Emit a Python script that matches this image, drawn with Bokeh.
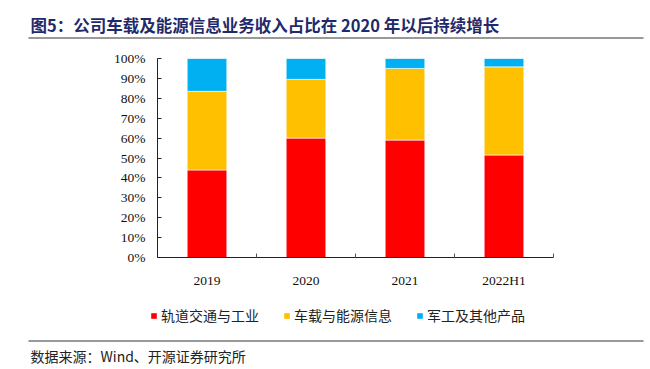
from bokeh.plotting import figure
from bokeh.layouts import column
from bokeh.models import (Range1d, FixedTicker, NumeralTickFormatter, Label,
                          Legend, LegendItem, ColumnDataSource)
from bokeh.embed import file_html
from bokeh.resources import INLINE

# ---- data ----
years = ["2019", "2020", "2021", "2022H1"]
rail = [0.44, 0.60, 0.59, 0.515]
vehicle = [0.395, 0.295, 0.36, 0.443]
military = [0.165, 0.105, 0.05, 0.042]
series = ["轨道交通与工业", "车载与能源信息", "军工及其他产品"]
colors = ["#FF0000", "#FFC000", "#00B0F0"]
y_ticks = [0.0, 0.1, 0.2, 0.3, 0.4, 0.5, 0.6, 0.7, 0.8, 0.9, 1.0]
title_text = "图5：公司车载及能源信息业务收入占比在 2020 年以后持续增长"
source_text = "数据来源：Wind、开源证券研究所"

W = 650
H_HEAD, H_MAIN, H_FOOT = 45, 245, 78
RULE = "#333333"


def blank(h):
    f = figure(width=W, height=h, output_backend="svg", toolbar_location=None,
               x_range=Range1d(0, W), y_range=Range1d(h, 0),
               min_border=0, min_border_left=0, min_border_right=0,
               min_border_top=0, min_border_bottom=0, frame_align=False)
    f.axis.visible = False
    f.grid.visible = False
    f.outline_line_color = None
    return f


# ---- header: title + rule ----
head = blank(H_HEAD)
head.add_layout(Label(x=30, y=24, text=title_text,
                      text_font="Noto Sans CJK SC", text_font_style="bold",
                      text_font_size="16.5px", text_color="#1F2A6B",
                      text_baseline="middle", text_align="left"))
head.segment(x0=[28], y0=[37.5], x1=[643], y1=[37.5], line_color=RULE, line_width=1)

# ---- main chart ----
xs = [i + 0.5 for i in range(len(years))]
src = ColumnDataSource(dict(x=xs, rail=rail, vehicle=vehicle, military=military))

p = figure(width=W, height=H_MAIN, output_backend="svg", toolbar_location=None,
           x_range=Range1d(0, len(years)), y_range=Range1d(0, 1),
           min_border_left=157, min_border_right=97, min_border_top=13,
           min_border_bottom=24, frame_align=False)
p.outline_line_color = None
p.xgrid.visible = False
p.ygrid.visible = False

rs = p.vbar_stack(["rail", "vehicle", "military"], x="x", width=0.4, source=src,
                  color=colors, line_color="white", line_width=0.6)

ya = p.yaxis[0]
ya.ticker = FixedTicker(ticks=y_ticks)
ya.formatter = NumeralTickFormatter(format="0%")
ya.major_tick_in = 4
ya.major_tick_out = 0
ya.minor_tick_line_color = None
ya.axis_line_color = "#222222"
ya.major_tick_line_color = "#222222"
ya.major_label_text_font = "Liberation Serif"
ya.major_label_text_font_size = "13.5px"
ya.major_label_text_color = "#111111"
ya.major_label_standoff = 12

xa = p.xaxis[0]
xa.ticker = FixedTicker(ticks=xs, minor_ticks=list(range(len(years) + 1)))
xa.major_label_overrides = {x: y for x, y in zip(xs, years)}
xa.major_tick_line_color = None
xa.minor_tick_in = 4
xa.minor_tick_out = 0
xa.minor_tick_line_color = "#555555"
xa.axis_line_color = "#222222"
xa.major_label_text_font = "Liberation Serif"
xa.major_label_text_font_size = "13.5px"
xa.major_label_text_color = "#111111"
xa.major_label_standoff = 9

# ---- footer: legend, rule, source ----
foot = blank(H_FOOT)
# legend swatch carriers: zero-height, outline-free bars that draw nothing themselves
swatches = [foot.vbar(x=[-1000], top=[0], bottom=[0], width=0, fill_color=c,
                      line_alpha=0) for c in colors]
legend = Legend(items=[LegendItem(label=s, renderers=[r]) for s, r in zip(series, swatches)],
                location=(150, 43), orientation="horizontal",
                glyph_width=7, glyph_height=7, label_standoff=4, spacing=24,
                label_text_font="Noto Sans CJK SC", label_text_font_size="14px",
                label_text_color="#222222", padding=0, margin=0,
                border_line_color=None, background_fill_alpha=0)
foot.add_layout(legend)
foot.segment(x0=[28], y0=[50.5], x1=[643], y1=[50.5], line_color=RULE, line_width=1)
foot.add_layout(Label(x=30, y=65, text=source_text,
                      text_font="Noto Sans CJK SC", text_font_size="14px",
                      text_color="#222222", text_baseline="middle", text_align="left"))

page = column(head, p, foot, spacing=0)
open("out.html", "w").write(file_html(page, INLINE))
